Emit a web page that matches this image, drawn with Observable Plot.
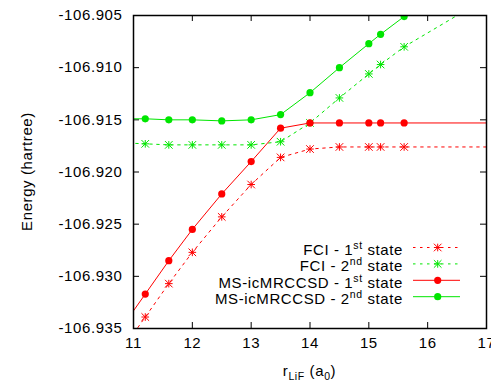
<!DOCTYPE html>
<html><head><meta charset="utf-8">
<script src="https://cdn.jsdelivr.net/npm/d3@7"></script>
<script src="https://cdn.jsdelivr.net/npm/@observablehq/plot@0.6"></script>
<style>
html,body{margin:0;padding:0;background:#fff;}
#chart svg{display:block;}
</style>
</head><body><div id="chart"></div>
<script>
// Bond distance r_LiF (a0); first and last entries lie outside the visible window (lines are clipped)
const rValues = [10.8, 11.2, 11.6, 12.0, 12.5, 13.0, 13.5, 14.0, 14.5, 15.0, 15.2, 15.6, 18.0];
const fci1 = [-106.9371, -106.9339, -106.9307, -106.9277, -106.9243, -106.9212, -106.9186, -106.9178, -106.9176, -106.9176, -106.9176, -106.9176, -106.9176];
const fci2 = [-106.9172, -106.9173, -106.9174, -106.9174, -106.9174, -106.9174, -106.9171, -106.9153, -106.9129, -106.9106, -106.9097, -106.9080, -106.9000];
const ms1  = [-106.9349, -106.9317, -106.9285, -106.9255, -106.9221, -106.9190, -106.9158, -106.9153, -106.9153, -106.9153, -106.9153, -106.9153, -106.9153];
const ms2  = [-106.9149, -106.9149, -106.9150, -106.9150, -106.9151, -106.9150, -106.9145, -106.9124, -106.9100, -106.9077, -106.9068, -106.9051, -106.8950];

const xTicks = [11, 12, 13, 14, 15, 16, 17];
const yTicks = [-106.935, -106.930, -106.925, -106.920, -106.915, -106.910, -106.905];

const seriesNames = ["FCI - 1st state", "FCI - 2nd state", "MS-icMRCCSD - 1st state", "MS-icMRCCSD - 2nd state"];
const seriesLabelMain = ["FCI - 1", "FCI - 2", "MS-icMRCCSD - 1", "MS-icMRCCSD - 2"];
const seriesLabelSup = ["st", "nd", "st", "nd"];
const seriesValues = [fci1, fci2, ms1, ms2];
const seriesColors = ["#ff0000", "#00e600", "#ff0000", "#00e600"];
const seriesDashed = [true, true, false, false];
const seriesMarker = ["star", "star", "circle", "circle"];

const W = 491, H = 381, mL = 133, mR = 5, mT = 15, mB = 53;
const innerW = W - mL - mR, innerH = H - mT - mB;
const FONT = "'Liberation Sans', Arial, Helvetica, sans-serif";
const DASH = "2.5,4.5";

const starSymbol = {
  draw(ctx, size) {
    const r = Math.sqrt(size / Math.PI);
    ctx.moveTo(-r, 0); ctx.lineTo(r, 0);
    ctx.moveTo(0, -r); ctx.lineTo(0, r);
    ctx.moveTo(-r, -r); ctx.lineTo(r, r);
    ctx.moveTo(-r, r); ctx.lineTo(r, -r);
  }
};

const rows = [];
seriesNames.forEach((name, i) => {
  rValues.forEach((r, j) => rows.push({series: name, idx: i, r, e: seriesValues[i][j]}));
});

const marks = [];
seriesNames.forEach((name, i) => {
  const data = rows.filter(d => d.idx === i);
  marks.push(Plot.line(data, {
    x: "r", y: "e", stroke: seriesColors[i], strokeWidth: 1,
    strokeDasharray: seriesDashed[i] ? DASH : null, clip: true
  }));
  if (seriesMarker[i] === "circle") {
    marks.push(Plot.dot(data, {x: "r", y: "e", r: 3.6, fill: seriesColors[i], stroke: "none", clip: true}));
  } else {
    marks.push(Plot.dot(data, {x: "r", y: "e", r: 3.8, symbol: starSymbol, fill: "none", stroke: seriesColors[i], strokeWidth: 1, clip: true}));
  }
});

const chart = Plot.plot({
  width: W, height: H,
  marginLeft: mL, marginRight: mR, marginTop: mT, marginBottom: mB,
  style: {fontFamily: FONT, fontSize: "15px", letterSpacing: "0.6px", color: "black", background: "white"},
  x: {domain: [11, 17]},
  y: {domain: [-106.935, -106.905]},
  marks: [
    Plot.axisX(xTicks, {tickSize: 0, tickPadding: 9, label: null, fontSize: 15, fill: "black"}),
    Plot.axisY(yTicks, {tickSize: 0, tickPadding: 11, label: null, tickFormat: d => d.toFixed(3), fontSize: 15, fill: "black"}),
    Plot.tickX(xTicks, {x: d => d, stroke: "black", strokeWidth: 1, insetTop: innerH - 6}),
    Plot.tickX(xTicks, {x: d => d, stroke: "black", strokeWidth: 1, insetBottom: innerH - 6}),
    Plot.tickY(yTicks, {y: d => d, stroke: "black", strokeWidth: 1, insetRight: innerW - 6}),
    Plot.tickY(yTicks, {y: d => d, stroke: "black", strokeWidth: 1, insetLeft: innerW - 6}),
    ...marks,
    Plot.frame({stroke: "black", strokeWidth: 1.5})
  ]
});

const svg = d3.select(chart);

// Legend (inside plot, lower right)
const lg = svg.append("g").attr("font-family", FONT).attr("font-size", 15).style("letter-spacing", "0.6px");
const textRight = 403, sampleX1 = 413, sampleX2 = 460, sampleMid = 437.7;
const baseline0 = 255, rowStep = 16.4;
seriesNames.forEach((name, i) => {
  const yb = baseline0 + i * rowStep;
  const t = lg.append("text").attr("x", textRight).attr("y", yb).attr("text-anchor", "end").attr("fill", "black");
  t.append("tspan").text(seriesLabelMain[i]);
  t.append("tspan").attr("font-size", 10.5).attr("dy", -6).text(seriesLabelSup[i]);
  t.append("tspan").attr("dy", 6).text(" state");
  const ys = yb - 7.5;
  lg.append("line").attr("x1", sampleX1).attr("x2", sampleX2).attr("y1", ys).attr("y2", ys)
    .attr("stroke", seriesColors[i]).attr("stroke-width", 1)
    .attr("stroke-dasharray", seriesDashed[i] ? DASH : null);
  if (seriesMarker[i] === "circle") {
    lg.append("circle").attr("cx", sampleMid).attr("cy", ys).attr("r", 3.6).attr("fill", seriesColors[i]);
  } else {
    lg.append("path").attr("transform", `translate(${sampleMid},${ys})`)
      .attr("d", d3.symbol(starSymbol, Math.PI * 3.8 * 3.8)())
      .attr("fill", "none").attr("stroke", seriesColors[i]).attr("stroke-width", 1);
  }
});

// Axis titles
const xl = svg.append("text").attr("x", mL + innerW / 2).attr("y", 376).attr("text-anchor", "middle")
  .attr("font-family", FONT).attr("font-size", 15).style("letter-spacing", "0.6px").attr("fill", "black");
xl.append("tspan").text("r");
xl.append("tspan").attr("font-size", 10.5).attr("dy", 4).text("LiF");
xl.append("tspan").attr("dy", -4).text(" (a");
xl.append("tspan").attr("font-size", 10.5).attr("dy", 4).text("0");
xl.append("tspan").attr("dy", -4).text(")");

svg.append("text").attr("transform", `translate(26,${mT + innerH / 2}) rotate(-90)`)
  .attr("text-anchor", "middle").attr("dominant-baseline", "central")
  .attr("font-family", FONT).attr("font-size", 15).style("letter-spacing", "0.6px").attr("fill", "black")
  .text("Energy (hartree)");

document.getElementById("chart").appendChild(chart);
</script>
</body></html>
